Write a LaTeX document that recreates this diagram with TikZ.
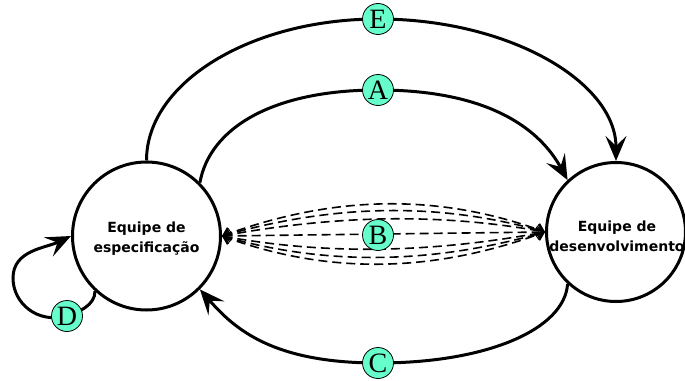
\documentclass[tikz,border=0pt]{standalone}
\usepackage{fontspec}
\setmainfont{Liberation Serif}
\newfontfamily\boxfont{DejaVu Sans}
\usetikzlibrary{arrows.meta}
\definecolor{lblgreen}{RGB}{102,255,204}
\begin{document}
\begin{tikzpicture}[x=1pt,y=-1pt,
  team/.style={circle,draw,line width=3pt,inner sep=0pt},
  teamtext/.style={align=center,font=\boxfont\bfseries\fontsize{14}{20}\selectfont},
  lbl/.style={circle,draw,line width=0.8pt,fill=lblgreen,inner sep=0pt,minimum size=31pt,font=\fontsize{28}{28}\selectfont},
  flow/.style={line width=3pt,-{Stealth[length=25pt,width=21pt,inset=10pt]}},
  talk/.style={line width=1.6pt,dash pattern=on 9pt off 5pt,{Straight Barb[length=7pt,width=12pt,line width=1.3pt]}-{Straight Barb[length=7pt,width=12pt,line width=1.3pt]}}]
\useasboundingbox (0,0) rectangle (685,380);

\node[team,minimum size=148pt] (L) at (146.5,236) {};
\node[team,minimum size=139pt] (R) at (616,232) {};
\node[teamtext] (Lt) at (146.5,238.5) {Equipe de\\especificação};
\node[teamtext] (Rt) at (617,236) {Equipe de\\desenvolvimento};

\coordinate (pE) at (378,19);
\coordinate (pA) at (378,90);
\coordinate (pB) at (378,235);
\coordinate (pC) at (378,363);
\coordinate (pD) at (67,316);
\coordinate (dl) at (13,278);

% E
\draw[flow] (L.90) .. controls +(0,-78) and +(-127,0) .. (pE)
  .. controls +(131,0) and +(0,-79) .. (R.90);
% A
\draw[flow] (L.45) .. controls +(10,-55) and +(-105,0) .. (pA)
  .. controls +(105,0) and +(-30,-55) .. (R.133);
% C
\draw[flow] (R.-133) .. controls +(-3,45) and +(110,0) .. (pC)
  .. controls +(-105,0) and +(35,40) .. (L.-45);
% D
\draw[flow] (L.-133) .. controls +(0,14) and +(12,-4) .. (pD)
  .. controls +(-30,8) and +(0,25) .. (dl)
  .. controls +(0,-28) and +(-25,12) .. (L.180);
% B
\draw[talk] (L.east) -- (R.west);
\draw[talk] (L.east) .. controls +(109,-40) and +(-109,-40) .. (R.west);
\draw[talk] (L.east) .. controls +(109,-31) and +(-109,-31) .. (R.west);
\draw[talk] (L.east) .. controls +(109,-20) and +(-109,-20) .. (R.west);
\draw[talk] (L.east) .. controls +(109,20) and +(-109,20) .. (R.west);
\draw[talk] (L.east) .. controls +(109,31) and +(-109,31) .. (R.west);
\draw[talk] (L.east) .. controls +(109,40) and +(-109,40) .. (R.west);

\node[lbl] (E) at (pE) {E};
\node[lbl] (A) at (pA) {A};
\node[lbl] (B) at (pB) {B};
\node[lbl] (C) at (pC) {C};
\node[lbl] (D) at (pD) {D};
\end{tikzpicture}
\end{document}
